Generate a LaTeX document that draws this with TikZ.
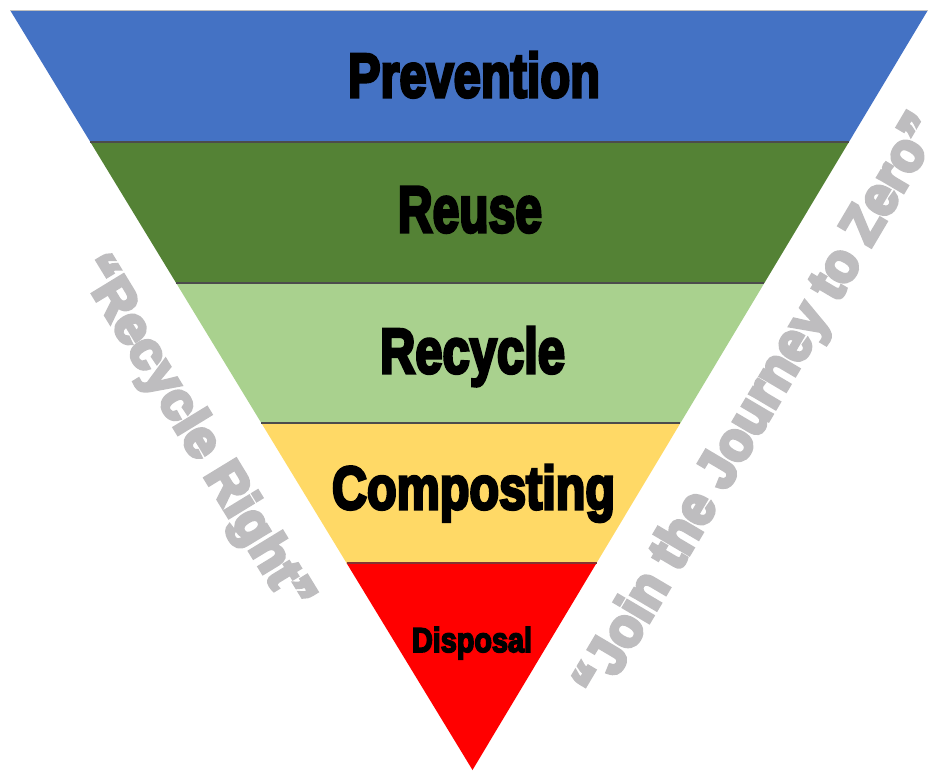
\documentclass[tikz,border=0pt]{standalone}
\usepackage{fontspec}
\usetikzlibrary{calc}
\newfontfamily\impactfont{Liberation Sans Bold}[FakeBold=5]
\newfontfamily\sloganfont{Liberation Sans Bold}[FakeBold=7]
\definecolor{cBlue}{HTML}{4472C4}
\definecolor{cGreen}{HTML}{548235}
\definecolor{cLight}{HTML}{A9D18E}
\definecolor{cYellow}{HTML}{FFD966}
\definecolor{cRed}{HTML}{FF0000}
\definecolor{cSlogan}{HTML}{BEBDBF}
\newcommand{\fitlabel}[3]{\resizebox{#1pt}{#2pt}{\impactfont #3}}
\newcommand{\fitslogan}[3]{\resizebox{#1pt}{#2pt}{\sloganfont #3}}
\begin{document}
\begin{tikzpicture}[x=1pt,y=-1pt,
  lbl/.style={inner sep=0pt, anchor=base, text=black},
  slogan/.style={inner sep=0pt, anchor=base, text=cSlogan},
  sep/.style={draw=black!70, line width=1.5pt}]
\useasboundingbox (0,0) rectangle (928,772);
\coordinate (TL) at (10,10);
\coordinate (TR) at (928,10);
\coordinate (A) at (472.5,770);
\coordinate (L1) at ($(TL)!0.17368!(A)$);
\coordinate (R1) at ($(TR)!0.17368!(A)$);
\coordinate (L2) at ($(TL)!0.35921!(A)$);
\coordinate (R2) at ($(TR)!0.35921!(A)$);
\coordinate (L3) at ($(TL)!0.54342!(A)$);
\coordinate (R3) at ($(TR)!0.54342!(A)$);
\coordinate (L4) at ($(TL)!0.72763!(A)$);
\coordinate (R4) at ($(TR)!0.72763!(A)$);
\fill[cBlue] (TL) -- (TR) -- (R1) -- (L1) -- cycle;
\fill[cGreen] (L1) -- (R1) -- (R2) -- (L2) -- cycle;
\fill[cLight] (L2) -- (R2) -- (R3) -- (L3) -- cycle;
\fill[cYellow] (L3) -- (R3) -- (R4) -- (L4) -- cycle;
\fill[cRed] (L4) -- (R4) -- (A) -- cycle;
\draw[gray!50, line width=0.8pt] (TL) -- (TR);
\draw[sep] (L1) -- (R1);
\draw[sep] (L2) -- (R2);
\draw[sep] (L3) -- (R3);
\draw[sep, draw=black!60!red!80] (L4) -- (R4);
\node[lbl] (prev) at (474,97) {\fitlabel{252}{45}{Prevention}};
\node[lbl] (reuse) at (470,232) {\fitlabel{144}{45}{Reuse}};
\node[lbl] (recy) at (472.5,373) {\fitlabel{185}{46}{Recycle}};
\node[lbl] (comp) at (473.5,509) {\fitlabel{283}{44}{Composting}};
\node[lbl] (disp) at (472,652) {\fitlabel{120}{25}{Disposal}};
\node[slogan, rotate=-58.6] (right) at (182.5,441) {\fitslogan{405}{38}{“Recycle Right”}};
\node[slogan, rotate=59.4] (zero) at (772,414) {\fitslogan{666}{40}{“Join the Journey to Zero”}};
\end{tikzpicture}
\end{document}
